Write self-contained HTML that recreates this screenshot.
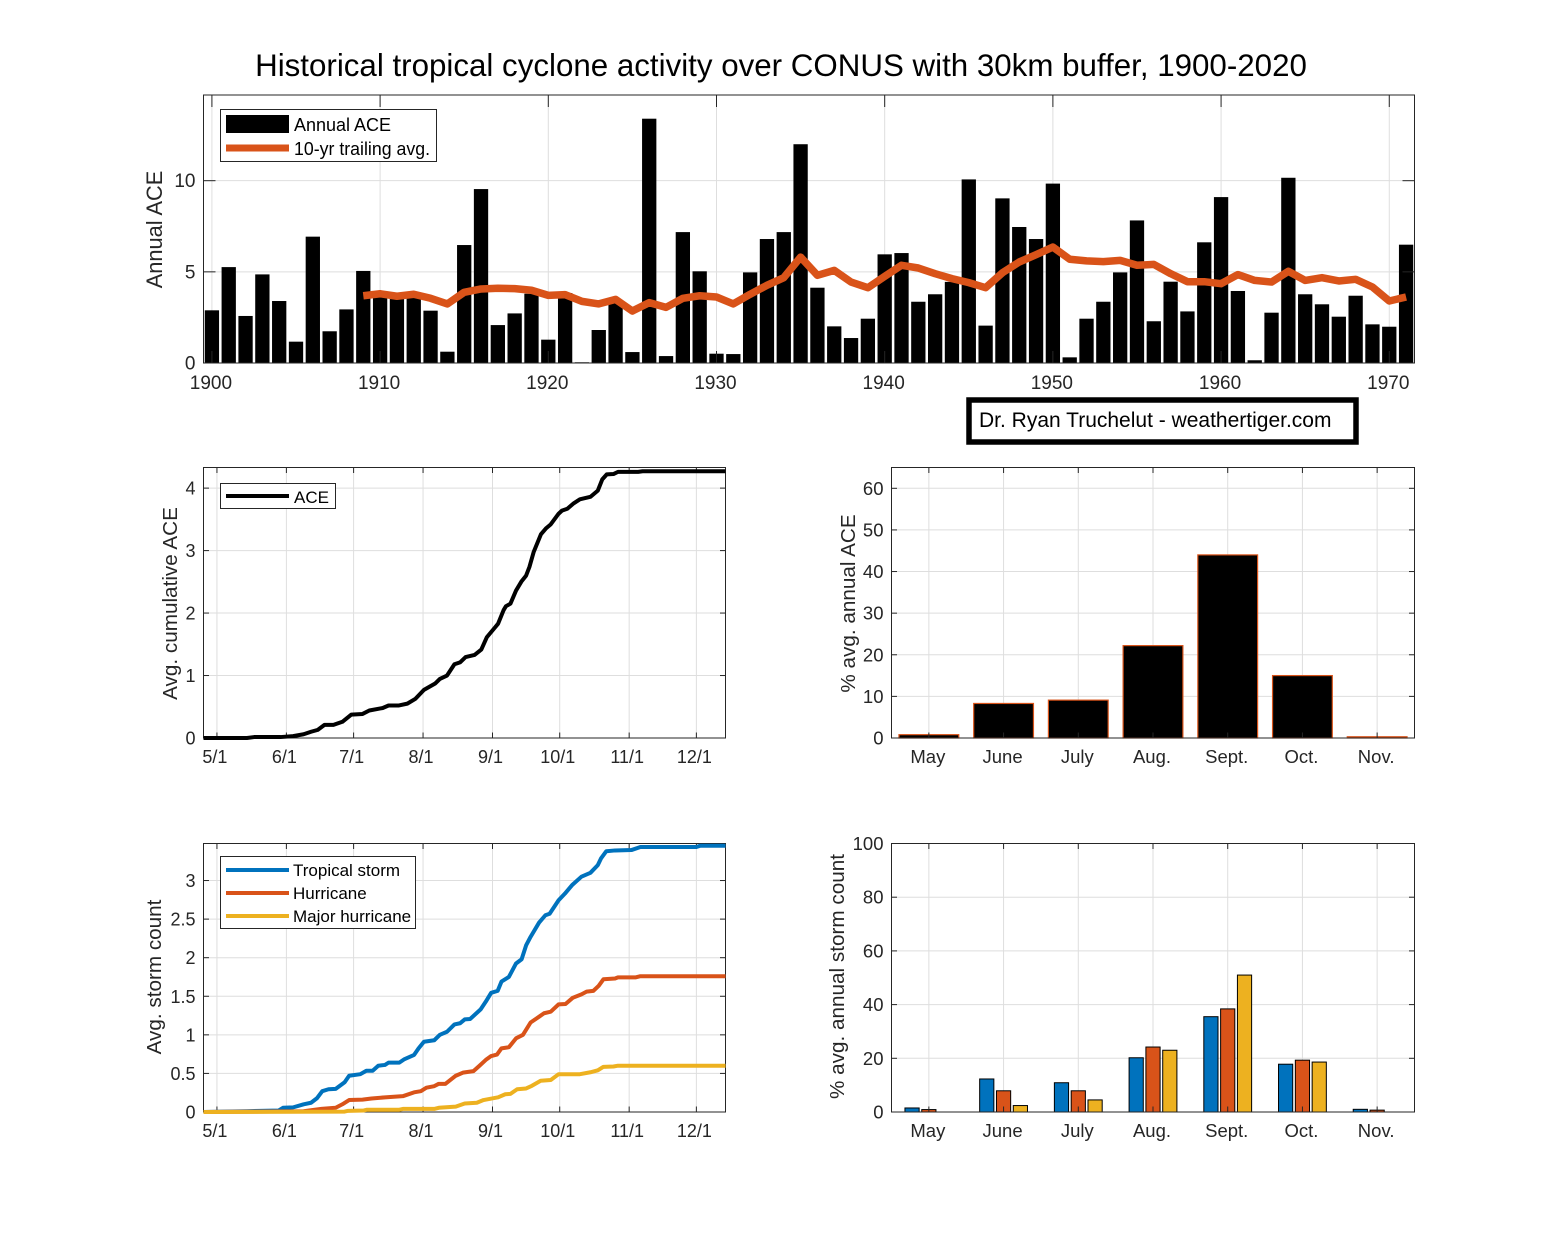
<!DOCTYPE html>
<html>
<head>
<meta charset="utf-8">
<title>Historical tropical cyclone activity</title>
<style>
html,body{margin:0;padding:0;background:#fff;}
svg{display:block;font-family:"Liberation Sans",Arial,sans-serif;}
.tick{fill:#262626;}
.ylab{font-size:20.7px;fill:#262626;text-anchor:middle;}
.leg{font-size:18px;fill:#000;}
.leg2{font-size:17px;fill:#000;}
</style>
</head>
<body>
<svg id="fig" width="1563" height="1250" viewBox="0 0 1563 1250" xmlns="http://www.w3.org/2000/svg">
<rect width="1563" height="1250" fill="#fff"/>
<text x="781" y="76" font-size="31.3" text-anchor="middle" fill="#000">Historical tropical cyclone activity over CONUS with 30km buffer, 1900-2020</text>
<g id="p1"></g>
<g id="p2"></g>
<g id="p3"></g>
<g id="p4"></g>
<g id="p5"></g>

<text class="ylab" style="font-size:21.8px" transform="translate(162,229.5) rotate(-90)">Annual ACE</text>
<text class="ylab" transform="translate(177,603.5) rotate(-90)">Avg. cumulative ACE</text>
<text class="ylab" transform="translate(855,603.5) rotate(-90)">% avg. annual ACE</text>
<text class="ylab" transform="translate(161,977) rotate(-90)">Avg. storm count</text>
<text class="ylab" transform="translate(844,976.5) rotate(-90)">% avg. annual storm count</text>

<g>
  <rect x="220.5" y="109.5" width="216" height="52" fill="#fff" stroke="#262626"/>
  <rect x="226" y="115" width="63" height="18" fill="#000"/>
  <text class="leg" x="294" y="131">Annual ACE</text>
  <line x1="226" x2="289" y1="148" y2="148" stroke="#D95319" stroke-width="7"/>
  <text class="leg" x="294" y="155" textLength="136" lengthAdjust="spacingAndGlyphs">10-yr trailing avg.</text>
</g>
<g>
  <rect x="220.5" y="483.5" width="115" height="25" fill="#fff" stroke="#262626"/>
  <line x1="226" x2="289" y1="496" y2="496" stroke="#000" stroke-width="4"/>
  <text class="leg2" x="294" y="503">ACE</text>
</g>
<g>
  <rect x="220.5" y="856.5" width="195" height="72" fill="#fff" stroke="#262626"/>
  <line x1="226" x2="289" y1="870" y2="870" stroke="#0072BD" stroke-width="4"/>
  <text class="leg2" x="293" y="876">Tropical storm</text>
  <line x1="226" x2="289" y1="893" y2="893" stroke="#D95319" stroke-width="4"/>
  <text class="leg2" x="293" y="899">Hurricane</text>
  <line x1="226" x2="289" y1="916" y2="916" stroke="#EDB120" stroke-width="4"/>
  <text class="leg2" x="293" y="922">Major hurricane</text>
</g>
<g>
  <rect x="969" y="400" width="387" height="42" fill="#fff" stroke="#000" stroke-width="5.5"/>
  <text x="979" y="427" font-size="21" fill="#000">Dr. Ryan Truchelut - weathertiger.com</text>
</g>
</svg>
<script>
// ---- Annual ACE (top panel) ----
const years = [1900,1901,1902,1903,1904,1905,1906,1907,1908,1909,1910,1911,1912,1913,1914,1915,1916,1917,1918,1919,1920,1921,1922,1923,1924,1925,1926,1927,1928,1929,1930,1931,1932,1933,1934,1935,1936,1937,1938,1939,1940,1941,1942,1943,1944,1945,1946,1947,1948,1949,1950,1951,1952,1953,1954,1955,1956,1957,1958,1959,1960,1961,1962,1963,1964,1965,1966,1967,1968,1969,1970,1971];
const annualAce = [2.89,5.26,2.58,4.86,3.4,1.17,6.93,1.74,2.94,5.05,3.85,3.55,3.7,2.87,0.62,6.47,9.54,2.08,2.72,3.8,1.28,3.84,0.04,1.81,3.4,0.6,13.4,0.38,7.18,5.03,0.51,0.49,4.97,6.8,7.18,12.0,4.13,2.01,1.37,2.43,5.96,6.03,3.36,3.77,4.45,10.07,2.05,9.03,7.46,6.8,9.84,0.31,2.43,3.36,4.97,7.82,2.29,4.46,2.83,6.62,9.1,3.95,0.15,2.76,10.16,3.77,3.22,2.54,3.69,2.12,1.99,6.49];
const trailingYears = [1909,1910,1911,1912,1913,1914,1915,1916,1917,1918,1919,1920,1921,1922,1923,1924,1925,1926,1927,1928,1929,1930,1931,1932,1933,1934,1935,1936,1937,1938,1939,1940,1941,1942,1943,1944,1945,1946,1947,1948,1949,1950,1951,1952,1953,1954,1955,1956,1957,1958,1959,1960,1961,1962,1963,1964,1965,1966,1967,1968,1969,1970,1971];
const trailingAvg = [3.69,3.8,3.66,3.77,3.55,3.24,3.88,4.06,4.1,4.08,3.99,3.71,3.75,3.38,3.24,3.49,2.85,3.31,3.05,3.55,3.69,3.62,3.24,3.77,4.26,4.68,5.81,4.81,5.08,4.44,4.13,4.75,5.36,5.21,4.9,4.63,4.41,4.13,4.95,5.54,5.94,6.36,5.69,5.6,5.56,5.63,5.36,5.41,4.9,4.46,4.46,4.35,4.85,4.53,4.44,5.03,4.53,4.68,4.5,4.59,4.17,3.4,3.62];
const yearTicks = [1900,1910,1920,1930,1940,1950,1960,1970];
const annualYTicks = [0,5,10];

// ---- Cumulative curves ----
const dateTicks = [121,152,182,213,244,274,305,335];
const dateLabels = ['5/1','6/1','7/1','8/1','9/1','10/1','11/1','12/1'];
const aceDays = [115,134.4,137.6,149.4,155,159.7,163,166,169,173,177,181,186,189,195,197.6,202,206,209.5,213.4,218.5,220.5,223.7,227,229.5,232,236,239,241.5,245,246.5,249,250,252,254.5,257,259,260.5,262.4,265.6,268,270,273.5,275,277.4,280,283,287.7,291,293,295,298,300,309,311,348];
const aceCum = [0,0,0.015,0.015,0.03,0.06,0.1,0.13,0.21,0.21,0.26,0.375,0.385,0.44,0.48,0.52,0.52,0.55,0.625,0.77,0.875,0.945,1.0,1.18,1.21,1.295,1.33,1.415,1.615,1.765,1.83,2.05,2.11,2.15,2.36,2.51,2.6,2.74,2.98,3.26,3.36,3.42,3.59,3.64,3.67,3.75,3.82,3.86,3.96,4.14,4.22,4.225,4.26,4.26,4.27,4.27];
const aceCumYTicks = [0,1,2,3,4];

const tsDays = [115,134.4,148.6,150.5,155,159.7,163,165.7,168,170.8,174,178,180,185,187.7,190.5,193,196,197.6,202.4,204.7,209,211,213.4,218,220.5,223.7,227,229.5,231.6,234,238.7,241,243.4,246.3,248,251.3,254.5,257,259,261,264.8,267.6,269.5,273.5,276.3,279.5,283.7,287.7,291,292.5,294.8,298.7,306,310,335,336.6,348];
const tsCount = [0,0.01,0.02,0.055,0.06,0.1,0.12,0.18,0.27,0.295,0.3,0.385,0.47,0.49,0.535,0.535,0.6,0.61,0.64,0.64,0.685,0.74,0.825,0.91,0.93,1.0,1.04,1.135,1.15,1.2,1.205,1.33,1.43,1.545,1.57,1.69,1.75,1.925,1.98,2.16,2.27,2.455,2.55,2.57,2.745,2.83,2.94,3.05,3.10,3.2,3.29,3.38,3.39,3.395,3.435,3.435,3.45,3.45];
const hurDays = [115,159.7,167.6,174,177,180,186,190,196,204,209,212,214.5,218,220,223,227.6,230.8,235.5,238,241,243.4,246,248,251.3,254.5,257.6,261,264.8,267,270,273.5,276.6,279.8,283.7,286,289,291.4,293.5,298.7,300,308,310,348];
const hurCount = [0,0.01,0.04,0.055,0.1,0.155,0.16,0.175,0.19,0.205,0.255,0.27,0.315,0.335,0.365,0.365,0.47,0.51,0.53,0.595,0.675,0.725,0.745,0.825,0.84,0.955,1.0,1.16,1.235,1.28,1.3,1.395,1.40,1.48,1.525,1.56,1.57,1.635,1.72,1.73,1.745,1.745,1.76,1.76];
const majDays = [115,178,179.5,186.6,188,202.4,204,218,220,227.6,231.6,237,240,246.5,249.7,252,255,259,261.6,265.5,270,273.5,283,287.7,291,293.5,298,300,348];
const majCount = [0,0.005,0.015,0.02,0.03,0.03,0.04,0.04,0.055,0.07,0.11,0.12,0.155,0.19,0.23,0.235,0.295,0.305,0.34,0.405,0.415,0.49,0.49,0.515,0.54,0.585,0.59,0.6,0.6];
const stormYTicks = [0,0.5,1,1.5,2,2.5,3];

// ---- Monthly bars ----
const months = ['May','June','July','Aug.','Sept.','Oct.','Nov.'];
const monthlyAce = [0.8,8.3,9.1,22.2,44,15,0.3];
const monthlyAceYTicks = [0,10,20,30,40,50,60];
const monthlyTs = [1.5,12.3,10.9,20.2,35.5,17.8,1.0];
const monthlyHur = [0.9,7.9,7.9,24.2,38.4,19.3,0.7];
const monthlyMaj = [0,2.4,4.5,23,51,18.6,0];
const monthlyStormYTicks = [0,20,40,60,80,100];

const NS = 'http://www.w3.org/2000/svg';
const AXIS = '#262626', GRID = '#dedede';
const BLUE = '#0072BD', ORANGE = '#D95319', YELLOW = '#EDB120';

function mk(tag, attrs, text) {
  const e = document.createElementNS(NS, tag);
  for (const k in attrs) e.setAttribute(k, attrs[k]);
  if (text !== undefined) e.textContent = text;
  return e;
}
function linear(d0, d1, r0, r1) {
  return function (v) { return r0 + (v - d0) * (r1 - r0) / (d1 - d0); };
}

// Gridlines go under the marks
function drawGrid(g, box, xs, ys, xT, yT) {
  xT.forEach(function (t) {
    const l = mk('line', {x1: xs(t), x2: xs(t), y1: box.t, y2: box.b, stroke: GRID, 'stroke-width': 1});
    
    
    g.appendChild(l);
  });
  yT.forEach(function (t) {
    const l = mk('line', {x1: box.l, x2: box.r, y1: ys(t), y2: ys(t), stroke: GRID, 'stroke-width': 1});
    
    
    g.appendChild(l);
  });
}

// Frame, inward ticks and tick labels go over the marks
function drawFrame(g, box, xs, ys, xT, xL, yT, tl, xShift, xDrop, fs) {
  xT.forEach(function (t, i) {
    const x = xs(t);
    const a = mk('line', {x1: x, x2: x, y1: box.b, y2: box.b - tl, stroke: AXIS, 'stroke-width': 1});
    
    
    g.appendChild(a);
    const b = mk('line', {x1: x, x2: x, y1: box.t, y2: box.t + tl, stroke: AXIS, 'stroke-width': 1});
    
    
    g.appendChild(b);
    const s = mk('text', {x: x + xShift, y: box.b + xDrop, 'text-anchor': 'middle', 'class': 'tick', 'font-size': fs}, xL[i]);
    
    
    g.appendChild(s);
  });
  yT.forEach(function (t) {
    const y = ys(t);
    const a = mk('line', {x1: box.l, x2: box.l + tl, y1: y, y2: y, stroke: AXIS, 'stroke-width': 1});
    
    
    g.appendChild(a);
    const b = mk('line', {x1: box.r, x2: box.r - tl, y1: y, y2: y, stroke: AXIS, 'stroke-width': 1});
    
    
    g.appendChild(b);
    const s = mk('text', {x: box.l - 8, y: y + 6.5, 'text-anchor': 'end', 'class': 'tick', 'font-size': fs}, String(t));
    
    
    g.appendChild(s);
  });
  const f = mk('rect', {x: box.l, y: box.t, width: box.r - box.l, height: box.b - box.t, fill: 'none', stroke: AXIS, 'stroke-width': 1});
  
  
  g.appendChild(f);
}

function linePath(xv, yv, xs, ys) {
  return xv.map(function (v, i) { return (i ? 'L' : 'M') + xs(v).toFixed(2) + ' ' + ys(yv[i]).toFixed(2); }).join('');
}

// Panel 1: annual ACE
(function () {
  const g = document.getElementById('p1');
  const box = {l: 203.5, r: 1414.5, t: 95, b: 363};
  const xs = linear(1899.5, 1971.5, box.l, box.r);
  const ys = linear(0, 14.7, box.b, box.t);
  drawGrid(g, box, xs, ys, yearTicks, annualYTicks);
  const w = 0.85;
  years.forEach(function (yr, i) {
    const r = mk('rect', {x: xs(yr - w / 2), width: xs(yr + w / 2) - xs(yr - w / 2), y: ys(annualAce[i]), height: ys(0) - ys(annualAce[i]), fill: '#000'});
    
    
    g.appendChild(r);
  });
  drawFrame(g, box, xs, ys, yearTicks, yearTicks.map(String), annualYTicks, 12, -1, 26, 19);
  const p = mk('path', {d: linePath(trailingYears, trailingAvg, xs, ys), fill: 'none', stroke: ORANGE, 'stroke-width': 7.5, 'stroke-linejoin': 'round'});
  
  
  g.appendChild(p);
})();

// Panel 2: cumulative ACE
(function () {
  const g = document.getElementById('p2');
  const box = {l: 203.5, r: 725.5, t: 467.5, b: 738};
  const xs = linear(115, 348, box.l, box.r);
  const ys = linear(0, 4.33, box.b, box.t);
  drawGrid(g, box, xs, ys, dateTicks, aceCumYTicks);
  drawFrame(g, box, xs, ys, dateTicks, dateLabels, aceCumYTicks, 5.5, -2, 25, 18);
  const p = mk('path', {d: linePath(aceDays, aceCum, xs, ys), fill: 'none', stroke: '#000', 'stroke-width': 4, 'stroke-linejoin': 'round'});
  
  
  g.appendChild(p);
})();

// Panel 3: monthly ACE share
(function () {
  const g = document.getElementById('p3');
  const box = {l: 891.5, r: 1414.5, t: 467.5, b: 738};
  const xs = linear(0.5, 7.5, box.l, box.r);
  const ys = linear(0, 65, box.b, box.t);
  const cats = months.map(function (m, i) { return i + 1; });
  drawGrid(g, box, xs, ys, cats, monthlyAceYTicks);
  const w = 0.8;
  months.forEach(function (m, i) {
    const r = mk('rect', {x: xs(i + 1 - w / 2), width: xs(i + 1 + w / 2) - xs(i + 1 - w / 2), y: ys(monthlyAce[i]), height: ys(0) - ys(monthlyAce[i]), fill: '#000', stroke: ORANGE, 'stroke-width': 1.2});
    
    
    g.appendChild(r);
  });
  drawFrame(g, box, xs, ys, cats, months, monthlyAceYTicks, 5.5, -1, 25, 18.5);
})();

// Panel 4: cumulative storm count
(function () {
  const g = document.getElementById('p4');
  const box = {l: 203.5, r: 725.5, t: 843.5, b: 1112};
  const xs = linear(115, 348, box.l, box.r);
  const ys = linear(0, 3.48, box.b, box.t);
  drawGrid(g, box, xs, ys, dateTicks, stormYTicks);
  drawFrame(g, box, xs, ys, dateTicks, dateLabels, stormYTicks, 5.5, -2, 25, 18);
  const a = mk('path', {d: linePath(tsDays, tsCount, xs, ys), fill: 'none', stroke: BLUE, 'stroke-width': 4, 'stroke-linejoin': 'round'});
  
  
  g.appendChild(a);
  const b = mk('path', {d: linePath(hurDays, hurCount, xs, ys), fill: 'none', stroke: ORANGE, 'stroke-width': 4, 'stroke-linejoin': 'round'});
  
  
  g.appendChild(b);
  const c = mk('path', {d: linePath(majDays, majCount, xs, ys), fill: 'none', stroke: YELLOW, 'stroke-width': 4, 'stroke-linejoin': 'round'});
  
  
  g.appendChild(c);
})();

// Panel 5: monthly storm share
(function () {
  const g = document.getElementById('p5');
  const box = {l: 891.5, r: 1414.5, t: 843.5, b: 1112};
  const xs = linear(0.5, 7.5, box.l, box.r);
  const ys = linear(0, 100, box.b, box.t);
  const cats = months.map(function (m, i) { return i + 1; });
  drawGrid(g, box, xs, ys, cats, monthlyStormYTicks);
  const w = 0.19, off = 0.225;
  months.forEach(function (m, i) {
    [[monthlyTs, BLUE, -off, 'tropical-storm'], [monthlyHur, ORANGE, 0, 'hurricane'], [monthlyMaj, YELLOW, off, 'major-hurricane']].forEach(function (s) {
      const v = s[0][i];
      if (v <= 0) return;
      const c = i + 1 + s[2];
      const r = mk('rect', {x: xs(c - w / 2), width: xs(c + w / 2) - xs(c - w / 2), y: ys(v), height: ys(0) - ys(v), fill: s[1], stroke: '#000', 'stroke-width': 1});
      
      
      g.appendChild(r);
    });
  });
  drawFrame(g, box, xs, ys, cats, months, monthlyStormYTicks, 5.5, -1, 25, 18.5);
})();
</script>
</body>
</html>
